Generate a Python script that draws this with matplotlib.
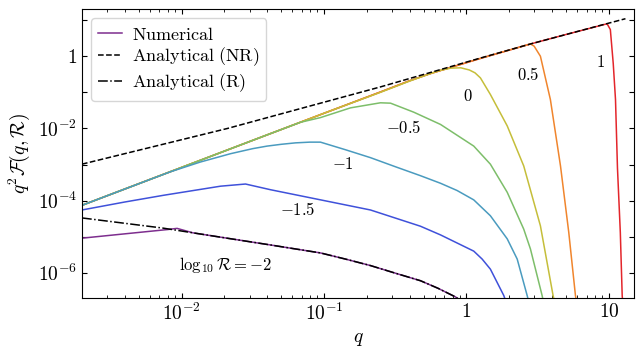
import matplotlib
matplotlib.use("Agg")
import matplotlib.pyplot as plt
import numpy as np

plt.rcParams['font.family'] = 'serif'
plt.rcParams['font.serif'] = ['cmr10', 'DejaVu Serif']
plt.rcParams['mathtext.fontset'] = 'cm'
plt.rcParams['axes.formatter.use_mathtext'] = True

# ---------------- data ----------------
log10R_labels = ['$\\log_{10}\\mathcal{R} = -2$', '$-1.5$', '$-1$', '$-0.5$', '$0$', '$0.5$', '$1$']
colors = ['#7D2E8E', '#3F51DA', '#4A9BBF', '#7DBE6A', '#C5BE3A', '#F0852D', '#E3262B']
legend_labels = ['$\\mathrm{Numerical}$', '$\\mathrm{Analytical\\ (NR)}$', '$\\mathrm{Analytical\\ (R)}$']

q_m2 = [2.0e-3, 4.0e-3, 6.0e-3, 8.0e-3, 9.3e-3, 0.012, 0.02, 0.0422, 0.0944, 0.1413, 0.2118,
        0.3162, 0.4753, 0.631, 0.8375, 0.933]
v_m2 = [9.1e-6, 1.2e-5, 1.41e-5, 1.58e-5, 1.70e-5, 1.28e-5, 9.33e-6, 5.89e-6, 3.55e-6, 2.40e-6,
        1.585e-6, 9.77e-7, 6.03e-7, 3.72e-7, 2.14e-7, 1.58e-7]

q_m15 = [2.0e-3, 3.98e-3, 7.52e-3, 0.01879, 0.02812, 0.04217, 0.0944, 0.2118, 0.4753, 0.6577,
         1.125, 1.288, 1.472, 1.828, 1.95]
v_m15 = [5.50e-5, 9.12e-5, 1.41e-4, 2.51e-4, 2.88e-4, 2.0e-4, 1.05e-4, 5.50e-5, 1.95e-5, 1.12e-5,
         3.98e-6, 2.40e-6, 1.26e-6, 2.34e-7, 1.12e-7]

q_m1 = [2.0e-3, 6.05e-3, 8.38e-3, 0.01358, 0.02208, 0.03162, 0.0398, 0.0501, 0.0631, 0.0794, 0.0944,
        0.1413, 0.2118, 0.3162, 0.4753, 0.6577, 0.859, 1.125, 1.472, 1.932, 2.27, 2.667, 2.818]
v_m1 = [7.41e-5, 3.89e-4, 6.31e-4, 1.175e-3, 1.995e-3, 2.754e-3, 3.236e-3, 3.631e-3, 3.981e-3,
        4.169e-3, 4.169e-3, 2.57e-3, 1.55e-3, 8.71e-4, 4.90e-4, 3.02e-4, 1.905e-4, 1.047e-4, 3.80e-5,
        8.71e-6, 2.40e-6, 2.34e-7, 1.0e-7]

q_m05 = [2.0e-3, 0.0398, 0.0684, 0.0944, 0.1535, 0.2489, 0.2931, 0.4266, 0.6577, 1.125, 1.472,
         1.932, 2.523, 2.812, 3.396, 3.548]
v_m05 = [7.41e-5, 6.61e-3, 0.01479, 0.01995, 0.03715, 0.0513, 0.0501, 0.02818, 0.01288, 3.24e-3,
         1.02e-3, 1.70e-4, 1.62e-5, 4.57e-6, 2.34e-7, 1.0e-7]

q_0 = [2.0e-3, 0.03162, 0.1, 0.2489, 0.3981, 0.5585, 0.6577, 0.7762, 0.912, 1.047, 1.148, 1.253,
       1.472, 1.932, 2.523, 3.304, 4.055, 4.266]
v_0 = [7.41e-5, 4.68e-3, 0.0263, 0.1, 0.2042, 0.3311, 0.4074, 0.4677, 0.4786, 0.4169, 0.3467,
       0.2512, 0.0871, 0.01175, 9.12e-4, 2.0e-5, 2.34e-7, 1.0e-7]

q_05 = [2.0e-3, 0.03162, 0.1, 0.2489, 0.3981, 0.5585, 0.7762, 1.253, 2.037, 2.812, 2.985, 3.304,
        3.882, 4.571, 5.224, 5.821, 6.026]
v_05 = [7.41e-5, 4.68e-3, 0.0263, 0.1023, 0.2089, 0.331, 0.49, 0.871, 1.514, 2.188, 1.905, 1.0,
        0.0631, 9.12e-4, 1.32e-5, 2.34e-7, 1.0e-7]

q_1 = [2.0e-3, 0.03162, 0.1, 0.2489, 0.3981, 0.5585, 0.7762, 1.253, 2.037, 2.812, 5.012, 9.705,
       10.23, 10.72, 11.12, 11.48, 12.02, 12.39, 12.59]
v_1 = [7.41e-5, 4.68e-3, 0.0263, 0.1023, 0.2089, 0.331, 0.49, 0.871, 1.514, 2.188, 4.02, 7.94,
       5.495, 0.631, 0.0631, 7.94e-4, 1.32e-5, 2.34e-7, 1.0e-7]

q_NR = [2.0e-3, 0.02104, 0.0684, 0.2489, 0.5585, 1.253, 2.812, 9.705, 13.06]
v_NR = [1.023e-3, 0.01, 0.03548, 0.1413, 0.3548, 0.8913, 2.188, 8.035, 10.96]

q_R = [2.0e-3, 7.33e-3, 0.02, 0.0422, 0.0944, 0.1413, 0.2118, 0.3162, 0.4753, 0.631, 0.8375, 0.933]
v_R = [3.31e-5, 1.74e-5, 9.33e-6, 5.89e-6, 3.55e-6, 2.40e-6, 1.585e-6, 9.77e-7, 6.03e-7, 3.72e-7,
       2.14e-7, 1.58e-7]

curves_q = [q_m2, q_m15, q_m1, q_m05, q_0, q_05, q_1]
curves_v = [v_m2, v_m15, v_m1, v_m05, v_0, v_05, v_1]

# label anchor positions (data coords)
label_q = [0.0204, 0.065, 0.135, 0.361, 1.02, 2.72, 8.7]
label_v = [1.66e-6, 5.5e-5, 1.02e-3, 1.07e-2, 7.7e-2, 0.31, 0.71]

xticks = [1e-2, 1e-1, 1, 10]
xticklabels = ['$10^{-2}$', '$10^{-1}$', '$1$', '$10$']
yticks = [1e-6, 1e-5, 1e-4, 1e-3, 1e-2, 1e-1, 1, 10]
yticklabels = ['$10^{-6}$', '', '$10^{-4}$', '', '$10^{-2}$', '', '$1$', '']

# ---------------- plot ----------------
fig = plt.figure(figsize=(6.44, 3.56), dpi=100)
ax = fig.add_axes([0.1273, 0.1629, 0.8572, 0.8110])

# draw in reverse order so that lower R curves lie on top
for i in reversed(range(len(curves_q))):
    ax.plot(curves_q[i], curves_v[i], color=colors[i], lw=1.1,
            label=legend_labels[0] if i == 0 else None, zorder=2)

ax.plot(q_NR, v_NR, color='black', ls='--', lw=1.1, label=legend_labels[1], zorder=3)
ax.plot(q_R, v_R, color='black', ls='-.', lw=1.1, label=legend_labels[2], zorder=3)

for i in range(len(label_q)):
    ax.text(label_q[i], label_v[i], log10R_labels[i], fontsize=12, ha='center', va='center')

ax.set_xscale('log')
ax.set_yscale('log')
ax.set_xticks(xticks)
ax.set_xticklabels(xticklabels)
ax.set_yticks(yticks)
ax.set_yticklabels(yticklabels)
ax.yaxis.set_minor_locator(matplotlib.ticker.NullLocator())
ax.set_xlim(2e-3, 15)
ax.set_ylim(2e-7, 20)
ax.tick_params(which='both', direction='in', top=True, right=True, labelsize=14)

ax.set_xlabel('$q$', fontsize=14)
ax.set_ylabel('$q^2\\mathcal{F}(q,\\mathcal{R})$', fontsize=14)

ax.legend(loc='upper left', fontsize=13, handlelength=1.3, handletextpad=0.55,
          labelspacing=0.16, framealpha=0.8)

fig.savefig('out.png', dpi=100)
